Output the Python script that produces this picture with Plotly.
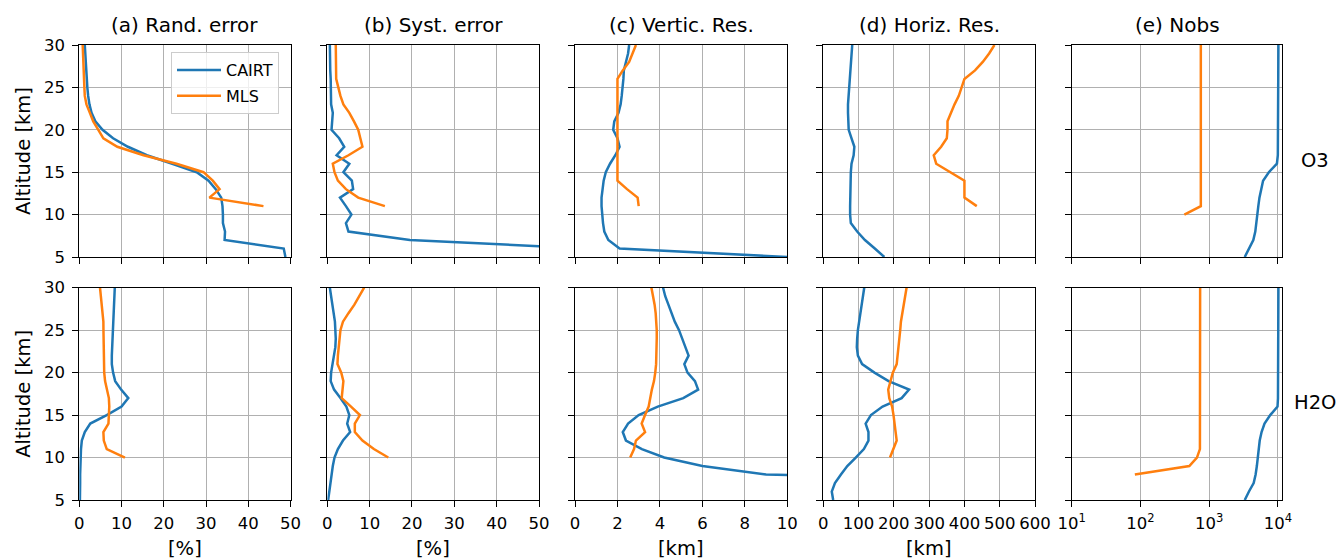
import plotly.graph_objects as go

# ---------------- data ----------------
ALT_CAIRT = [30, 29, 28, 27, 26, 25, 24, 23, 22, 21, 20, 19, 18, 17, 16, 15, 14, 13, 12, 11, 10, 9, 8, 7, 6, 5]
ALT_MLS_O3 = [30, 29, 28, 27, 26, 25, 24, 23, 22, 21, 20, 19, 18, 17, 16, 15, 14, 13, 12, 11]
ALT_MLS_O3_NOBS = [30, 29, 28, 27, 26, 25, 24, 23, 22, 21, 20, 19, 18, 17, 16, 15, 14, 13, 12, 11, 10]
ALT_MLS_H2O = [30, 29, 28, 27, 26, 25, 24, 23, 22, 21, 20, 19, 18, 17, 16, 15, 14, 13, 12, 11, 10]
ALT_MLS_H2O_NOBS = [30, 29, 28, 27, 26, 25, 24, 23, 22, 21, 20, 19, 18, 17, 16, 15, 14, 13, 12, 11, 10, 9, 8]

# O3 - CAIRT
o3_cairt_rand = [1.3, 1.4, 1.5, 1.6, 1.7, 1.9, 2.1, 2.4, 2.9, 3.8, 5.5, 8.0, 11.5, 16.0, 22.0, 27.8, 30.6, 32.3, 33.6, 33.9, 34.0, 34.0, 34.5, 34.4, 48.4, 48.8]
o3_cairt_syst = [0.6, 0.6, 0.7, 0.7, 0.8, 0.8, 0.8, 0.9, 1.3, 1.1, 1.0, 2.8, 4.0, 2.2, 5.2, 3.8, 5.8, 6.1, 3.0, 4.4, 5.7, 4.4, 5.0, 19.5, 61.0, 90.0]
o3_cairt_vres = [2.55, 2.5, 2.4, 2.3, 2.28, 2.25, 2.2, 2.15, 2.05, 1.85, 1.8, 2.0, 2.1, 1.9, 1.65, 1.45, 1.35, 1.3, 1.25, 1.25, 1.28, 1.32, 1.38, 1.57, 2.1, 10.0]
o3_cairt_hres = [82, 80, 78, 76, 74, 72, 71, 70, 70, 71, 72, 80, 88, 86, 80, 78, 77, 76, 76, 76, 76, 78, 96, 118, 146, 173]
o3_cairt_nobs = [10200, 10200, 10200, 10200, 10200, 10200, 10200, 10200, 10200, 10200, 10200, 10200, 10150, 10000, 9700, 7400, 6100, 5700, 5400, 5200, 5000, 4850, 4700, 4400, 3800, 3300]

# O3 - MLS
o3_mls_rand = [0.8, 0.85, 0.9, 1.0, 1.1, 1.2, 1.3, 1.7, 2.5, 3.3, 4.5, 5.7, 9.0, 15.2, 23.0, 29.4, 31.6, 33.2, 30.8, 43.6]
o3_mls_syst = [2.0, 2.0, 2.0, 2.0, 2.1, 2.6, 3.1, 3.8, 5.2, 6.3, 7.3, 7.8, 8.3, 5.0, 1.3, 1.7, 2.5, 4.4, 7.3, 13.6]
o3_mls_vres = [2.87, 2.72, 2.55, 2.25, 2.0, 2.0, 2.0, 2.0, 2.0, 2.0, 2.0, 2.0, 2.0, 2.0, 2.0, 2.0, 2.0, 2.45, 2.95, 3.0]
o3_mls_hres = [485, 470, 452, 430, 400, 393, 384, 372, 362, 352, 352, 350, 334, 313, 320, 360, 400, 400, 400, 435]
o3_mls_nobs = [757, 757, 757, 757, 757, 757, 757, 757, 757, 757, 757, 757, 757, 757, 757, 757, 757, 757, 757, 757, 436]

# H2O - CAIRT
h2o_cairt_rand = [8.4, 8.3, 8.2, 8.1, 8.0, 7.9, 7.8, 7.7, 7.7, 7.7, 8.0, 8.5, 9.9, 11.6, 10.0, 6.5, 2.6, 1.3, 0.6, 0.4, 0.3, 0.25, 0.2, 0.2, 0.15, 0.15]
h2o_cairt_syst = [0.6, 0.9, 1.2, 1.5, 1.8, 1.9, 2.0, 1.9, 1.6, 1.2, 0.9, 0.8, 1.6, 3.1, 4.5, 5.2, 4.7, 5.4, 3.7, 2.5, 1.7, 1.3, 1.0, 0.7, 0.45, 0.2]
h2o_cairt_vres = [4.15, 4.25, 4.4, 4.55, 4.7, 4.9, 5.05, 5.2, 5.35, 5.15, 5.3, 5.65, 5.8, 5.1, 3.9, 3.0, 2.5, 2.25, 2.4, 3.15, 4.2, 6.0, 9.0, 30.0, 40.0, 50.0]
h2o_cairt_hres = [116, 112, 108, 105, 101, 98, 96, 95, 98, 110, 145, 185, 243, 222, 168, 135, 120, 128, 128, 115, 92, 68, 50, 33, 24, 28]
h2o_cairt_nobs = [10200, 10200, 10200, 10200, 10200, 10200, 10200, 10200, 10200, 10200, 10200, 10200, 10150, 10050, 9900, 7750, 6400, 5800, 5450, 5300, 5150, 4950, 4750, 4450, 3800, 3300]

# H2O - MLS
h2o_mls_rand = [4.9, 5.1, 5.3, 5.5, 5.7, 5.72, 5.75, 5.77, 5.8, 5.8, 5.9, 6.1, 6.6, 7.0, 7.1, 7.0, 6.9, 5.7, 5.8, 6.5, 10.8]
h2o_mls_syst = [8.7, 7.6, 6.4, 5.0, 3.7, 3.1, 2.9, 2.6, 2.5, 2.4, 3.3, 3.8, 3.6, 3.4, 5.6, 7.7, 6.5, 6.5, 8.3, 11.0, 14.4]
h2o_mls_vres = [3.6, 3.68, 3.75, 3.8, 3.83, 3.85, 3.85, 3.85, 3.84, 3.82, 3.78, 3.72, 3.62, 3.55, 3.47, 3.3, 3.14, 3.3, 2.87, 2.78, 2.6]
h2o_mls_hres = [236, 232, 228, 223, 220, 218, 216, 214, 211, 208, 197, 190, 184, 187, 195, 199, 203, 205, 208, 198, 189]
h2o_mls_nobs = [740, 740, 740, 740, 740, 740, 740, 740, 740, 740, 740, 740, 740, 740, 740, 740, 740, 740, 740, 735, 665, 515, 83]

# labels
col_titles = ["(a) Rand. error", "(b) Syst. error", "(c) Vertic. Res.", "(d) Horiz. Res.", "(e) Nobs"]
col_units = ["[%]", "[%]", "[km]", "[km]", ""]
row_labels = ["O3", "H2O"]
series_names = ["CAIRT", "MLS"]
y_ticks = [5, 10, 15, 20, 25, 30]
log_tickvals = [10, 100, 1000, 10000]
log_ticktext = ["10<sup>1</sup>", "10<sup>2</sup>", "10<sup>3</sup>", "10<sup>4</sup>"]

# ---------------- layout geometry (pixels) ----------------
W, H = 1340, 560
BLUE, ORANGE = "#1f77b4", "#ff7f0e"
FONT = "DejaVu Sans"
col_px = [(79.3, 290.5), (327.3, 539.0), (575.0, 787.3), (823.3, 1035.0), (1071.7, 1282.3)]
row_px = [(45.0, 257.0), (287.7, 500.0)]
x_ranges = [[0, 50], [0, 50], [0, 10], [0, 600], [1, 4.065]]
x_dticks = [10, 10, 2, 100, None]

panels = [
    [(o3_cairt_rand, ALT_CAIRT, o3_mls_rand, ALT_MLS_O3),
     (o3_cairt_syst, ALT_CAIRT, o3_mls_syst, ALT_MLS_O3),
     (o3_cairt_vres, ALT_CAIRT, o3_mls_vres, ALT_MLS_O3),
     (o3_cairt_hres, ALT_CAIRT, o3_mls_hres, ALT_MLS_O3),
     (o3_cairt_nobs, ALT_CAIRT, o3_mls_nobs, ALT_MLS_O3_NOBS)],
    [(h2o_cairt_rand, ALT_CAIRT, h2o_mls_rand, ALT_MLS_H2O),
     (h2o_cairt_syst, ALT_CAIRT, h2o_mls_syst, ALT_MLS_H2O),
     (h2o_cairt_vres, ALT_CAIRT, h2o_mls_vres, ALT_MLS_H2O),
     (h2o_cairt_hres, ALT_CAIRT, h2o_mls_hres, ALT_MLS_H2O),
     (h2o_cairt_nobs, ALT_CAIRT, h2o_mls_nobs, ALT_MLS_H2O_NOBS)],
]


def px_x(x):
    return x / W


def px_y(y):
    return 1 - y / H


fig = go.Figure()
layout_axes = {}
for r in range(2):
    for c in range(5):
        idx = r * 5 + c + 1
        k = "" if idx == 1 else str(idx)
        cx, cy, mx, my = panels[r][c]
        first = (r == 0 and c == 0)
        fig.add_trace(go.Scatter(x=cx, y=cy, mode="lines", name=series_names[0],
                                 line=dict(color=BLUE, width=2.5),
                                 legendgroup="cairt", showlegend=first,
                                 xaxis="x" + k, yaxis="y" + k))
        fig.add_trace(go.Scatter(x=mx, y=my, mode="lines", name=series_names[1],
                                 line=dict(color=ORANGE, width=2.5),
                                 legendgroup="mls", showlegend=first,
                                 xaxis="x" + k, yaxis="y" + k))
        common = dict(showline=True, linecolor="black", linewidth=1.2, mirror=True,
                      ticks="outside", ticklen=6, tickwidth=1.2, tickcolor="black",
                      showgrid=True, gridcolor="#b0b0b0", gridwidth=1.3, zeroline=False,
                      automargin=False,
                      tickfont=dict(family=FONT, size=16.5, color="black"))
        xa = dict(common, domain=[px_x(col_px[c][0]), px_x(col_px[c][1])], anchor="y" + k,
                  showticklabels=(r == 1), ticklabelstandoff=2)
        if c == 4:
            xa.update(type="log", range=x_ranges[c], tickvals=log_tickvals, ticktext=log_ticktext)
        else:
            xa.update(range=x_ranges[c], tick0=0, dtick=x_dticks[c])
        ya = dict(common, domain=[px_y(row_px[r][1]), px_y(row_px[r][0])], anchor="x" + k,
                  range=[5, 30], tickvals=y_ticks, showticklabels=(c == 0),
                  ticklabelstandoff=4)
        layout_axes["xaxis" + k] = xa
        layout_axes["yaxis" + k] = ya

fig.update_layout(**layout_axes)

ann = []
for c in range(5):
    cxm = (col_px[c][0] + col_px[c][1]) / 2
    ann.append(dict(text=col_titles[c], x=px_x(cxm), y=px_y(25), xref="paper", yref="paper",
                    xanchor="center", yanchor="middle", showarrow=False,
                    font=dict(family=FONT, size=20, color="black")))
    if col_units[c]:
        ann.append(dict(text=col_units[c], x=px_x(cxm), y=px_y(548), xref="paper", yref="paper",
                        xanchor="center", yanchor="middle", showarrow=False,
                        font=dict(family=FONT, size=19.5, color="black")))
for r in range(2):
    ym = (row_px[r][0] + row_px[r][1]) / 2
    ann.append(dict(text="Altitude [km]", x=px_x(24), y=px_y(ym), xref="paper", yref="paper",
                    xanchor="center", yanchor="middle", showarrow=False, textangle=-90,
                    font=dict(family=FONT, size=19.5, color="black")))
    ann.append(dict(text=row_labels[r], x=px_x(1315), y=px_y(ym + 9), xref="paper", yref="paper",
                    xanchor="center", yanchor="middle", showarrow=False,
                    font=dict(family=FONT, size=19.5, color="black")))

fig.update_layout(
    width=W, height=H, autosize=False,
    margin=dict(l=0, r=0, t=0, b=0, pad=0, autoexpand=False),
    paper_bgcolor="white", plot_bgcolor="white",
    font=dict(family=FONT, size=16, color="black"),
    annotations=ann,
    showlegend=True,
    legend=dict(x=px_x(171), y=px_y(52), xanchor="left", yanchor="top",
                bgcolor="rgba(255,255,255,0.8)", bordercolor="#cccccc", borderwidth=1,
                font=dict(family=FONT, size=16, color="black"), tracegroupgap=2,
                itemwidth=44),
)

fig.write_html("out.html",
               post_script="document.body.style.margin='0';document.body.style.padding='0';document.body.style.overflow='hidden';")
